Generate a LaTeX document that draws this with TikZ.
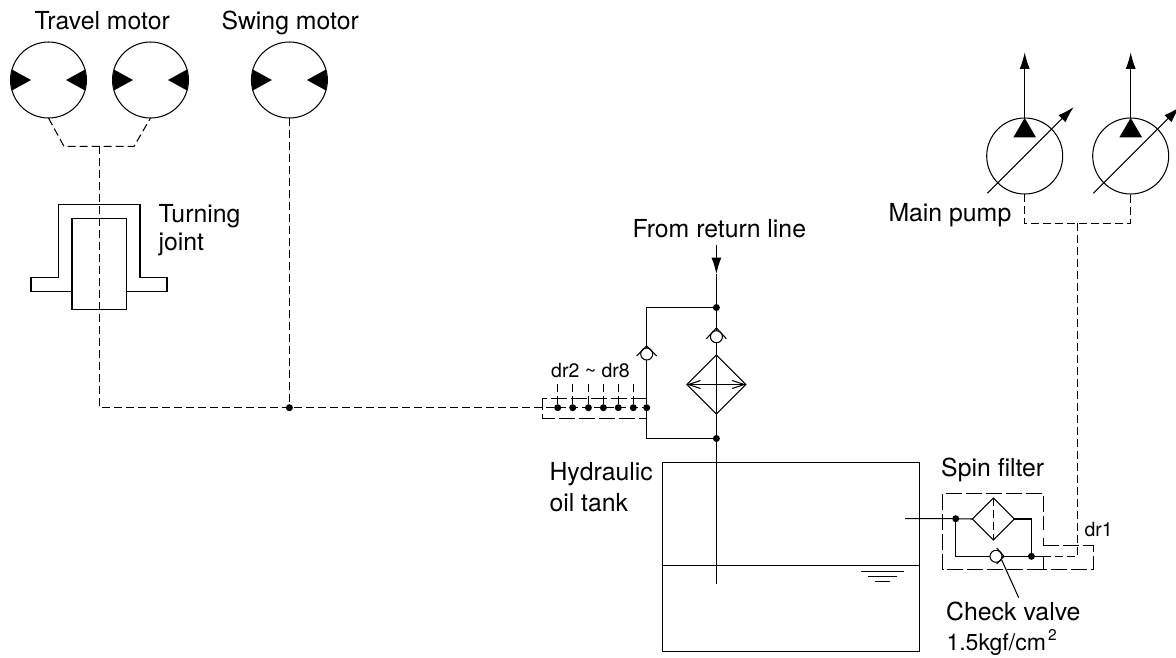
\documentclass[tikz,border=0pt]{standalone}
\usepackage{fontspec}
\setmainfont{TeX Gyre Heros}
\usetikzlibrary{arrows.meta,shapes.geometric}

\tikzset{
	every path/.style={line width=1.05pt},
	lbl/.style={anchor=base west, inner sep=0pt, font=\fontsize{24.8}{28}\selectfont},
	smalllbl/.style={anchor=base west, inner sep=0pt, font=\fontsize{19.5}{23}\selectfont},
	unit/.style={circle, draw, fill=white, inner sep=0pt, outer sep=0pt, minimum size=76pt},
	ball/.style={circle, draw, fill=white, inner sep=0pt, outer sep=0pt, minimum size=12pt},
	dot/.style={circle, fill=black, inner sep=0pt, outer sep=0pt, minimum size=7pt},
	elem/.style={diamond, draw, aspect=1, inner sep=0pt, outer sep=0pt},
	drain/.style={dash pattern=on 8pt off 4pt},
	casing/.style={dash pattern=on 16pt off 4pt},
	flowtip/.style={-{Latex[length=16.5pt,width=10pt]}}
}

\begin{document}
\begin{tikzpicture}[x=1pt,y=-1pt]
	\useasboundingbox (0,0) rectangle (1176,657);

	% Define vertices
	\node[unit] (tm1) at (48.5,80) {};
	\node[unit] (tm2) at (150.5,80) {};
	\node[unit] (sm) at (289.4,80) {};
	\node[unit] (mp1) at (1024.7,156) {};
	\node[unit] (mp2) at (1130.7,156) {};
	\node[dot] (sd) at (289.4,407.7) {};
	\node[dot] (d1) at (557.7,407.7) {};
	\node[dot] (d2) at (572.7,407.7) {};
	\node[dot] (d3) at (588.4,407.7) {};
	\node[dot] (d4) at (603.4,407.7) {};
	\node[dot] (d5) at (618.3,407.7) {};
	\node[dot] (d6) at (633.3,407.7) {};
	\node[dot] (d7) at (646.7,407.7) {};
	\node[dot] (rtop) at (716.4,307.5) {};
	\node[dot] (rbot) at (716.4,438.5) {};
	\node[dot] (sf1) at (955.7,518.7) {};
	\node[dot] (sf2) at (1031.4,556.3) {};
	\coordinate (rin) at (716.4,245);
	\coordinate (rarr) at (716.4,274);
	\coordinate (rend) at (716.4,584.3);
	\coordinate (tml) at (64,146.4);
	\coordinate (tmr) at (134,146.4);
	\coordinate (tmm) at (99.5,146.4);
	\coordinate (tmc) at (99.5,407.7);
	\coordinate (mpm) at (1077.7,223.3);
	\coordinate (mpc) at (1077.7,556.3);
	\coordinate (bl) at (646.7,307.5);

	% Draw motor and pump symbols
	\fill (tm1.164) -- ([xshift=-17.5pt]tm1.center) -- (tm1.196) -- (tm1.west) -- cycle;
	\fill (tm1.16) -- ([xshift=17.5pt]tm1.center) -- (tm1.-16) -- (tm1.east) -- cycle;
	\fill (tm2.164) -- ([xshift=-17.5pt]tm2.center) -- (tm2.196) -- (tm2.west) -- cycle;
	\fill (tm2.16) -- ([xshift=17.5pt]tm2.center) -- (tm2.-16) -- (tm2.east) -- cycle;
	\fill (sm.164) -- ([xshift=-17.5pt]sm.center) -- (sm.196) -- (sm.west) -- cycle;
	\fill (sm.16) -- ([xshift=17.5pt]sm.center) -- (sm.-16) -- (sm.east) -- cycle;
	\fill (mp1.north) -- ([xshift=11.3pt,yshift=-19.3pt]mp1.north) -- ([xshift=-11.3pt,yshift=-19.3pt]mp1.north) -- cycle;
	\fill (mp2.north) -- ([xshift=11.3pt,yshift=-19.3pt]mp2.north) -- ([xshift=-11.3pt,yshift=-19.3pt]mp2.north) -- cycle;
	\draw[flowtip] (mp1.north) -- ([yshift=65.7pt]mp1.north);
	\draw[flowtip] (mp2.north) -- ([yshift=65.7pt]mp2.north);
	\draw[flowtip] ([xshift=-37.4pt,yshift=-37.3pt]mp1.center) -- ([xshift=49pt,yshift=49pt]mp1.center);
	\draw[flowtip] ([xshift=-37.4pt,yshift=-37.3pt]mp2.center) -- ([xshift=49pt,yshift=49pt]mp2.center);

	% Draw drain lines
	\draw[drain] (tm1.south) -- (tml) -- (tmr) -- (tm2.south);
	\draw[drain] (tmm) -- (tmc) -- (d7);
	\draw[drain] (sm.south) -- (sd);
	\draw[drain] (d1) -- (557.7,382.7);
	\draw[drain] (d2) -- (572.7,382.7);
	\draw[drain] (d3) -- (588.4,382.7);
	\draw[drain] (d4) -- (603.4,382.7);
	\draw[drain] (d5) -- (618.3,382.7);
	\draw[drain] (d6) -- (633.3,382.7);
	\draw[casing] (646.7,398.3) -- (542.7,398.3) -- (542.7,418.3) -- (646.7,418.3);
	\draw[drain] (mp1.south) |- (mpm) -| (mp2.south);
	\draw[drain] (mpm) -- (mpc) -- (sf2);

	% Draw turning joint
	\draw (72,291.4) -- (31,291.4) -- (31,277.4) -- (58.5,277.4) -- (58.5,204.5) -- (140,204.5) -- (140,277.4) -- (167,277.4) -- (167,291.4) -- (126.5,291.4);
	\draw (72,218.5) rectangle (126.5,309.4);

	% Draw return line
	\draw[flowtip] (rin) -- (rarr);
	\draw (rarr) -- (rend);
	\draw (rtop) -- (bl) -- (d7);
	\draw (rbot) -| (d7);
	\node[ball] (cv1) at (646.7,354) {};
	\node[ball] (cv2) at (716.4,336.7) {};
	\draw (636.7,356) -- (646.7,346) -- (656.7,356);
	\draw (706.4,338.7) -- (716.4,328) -- (726.4,338.7);
	\node[elem, minimum width=59pt, minimum height=59pt] (cooler) at (716.4,384.5) {};
	\draw[{Straight Barb[length=12pt,width=8pt]}-{Straight Barb[length=12pt,width=8pt]}] (cooler.west) -- (cooler.east);

	% Draw tank
	\draw (662.7,462.4) rectangle (919.7,651.4);
	\draw (662.7,565.5) -- (919.7,565.5);
	\draw (861,571.4) -- (904,571.4);
	\draw (868,576.4) -- (897,576.4);
	\draw (875,581.4) -- (890,581.4);

	% Draw spin filter
	\node[elem, minimum width=42pt, minimum height=42pt] (filt) at (993.3,519) {};
	\draw (905,518.7) -- (sf1) -- (filt.west);
	\draw (filt.east) -| (sf2);
	\draw (sf1) |- (sf2);
	\draw[drain] (filt.north) -- (filt.south);
	\draw (sf2) -- (1043.3,556.3);
	\draw[drain] (1043.3,556.3) -- (mpc);
	\node[ball] (cv3) at (996,556.3) {};
	\draw (996.7,548) -- (1004,556.3) -- (996.7,564);
	\draw (1001.7,560) -- (1018.7,597.7);
	\draw[casing] (1043.3,569.4) -- (942.7,569.4) -- (942.7,493.3) -- (1043.3,493.3) -- (1043.3,530);
	\draw (1043.3,538) -- (1043.3,545.7);
	\draw (1043.3,556.3) -- (1043.3,569.4);
	\draw[casing] (1043.3,545.7) -- (1093.3,545.7) -- (1093.3,569.4) -- (1043.3,569.4);

	% Draw labels
	\node[lbl] (ltm) at (34,29) {Travel motor};
	\node[lbl] (lsm) at (221,29) {Swing motor};
	\node[lbl] (ltj1) at (158,222) {Turning};
	\node[lbl] (ltj2) at (158,250) {joint};
	\node[lbl] (lrl) at (632,237.3) {From return line};
	\node[lbl] (lmp) at (888,221.7) {Main pump};
	\node[smalllbl] (ldr) at (550.7,377.3) {dr2 \textasciitilde{} dr8};
	\node[lbl] (loil1) at (549,480) {Hydraulic};
	\node[lbl] (loil2) at (549,511) {oil tank};
	\node[lbl] (lsf) at (940.7,476.7) {Spin filter};
	\node[smalllbl] (ldr1) at (1084,536) {dr1};
	\node[lbl] (lcv) at (945.7,620.3) {Check valve};
	\node[lbl, font=\fontsize{23}{26}\selectfont] (lp) at (946,650.3) {1.5kgf/cm};
	\node[smalllbl, font=\fontsize{15.5}{18}\selectfont] (lpe) at (1047.5,640) {2};
\end{tikzpicture}
\end{document}
